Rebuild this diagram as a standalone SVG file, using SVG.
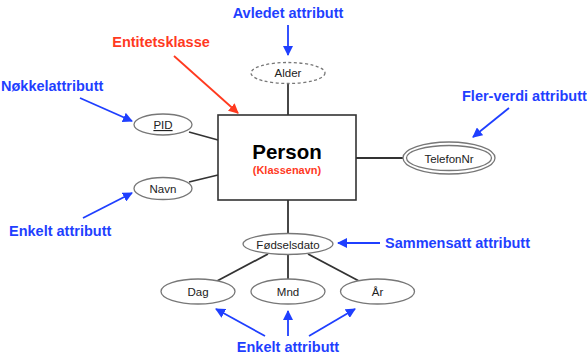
<svg xmlns="http://www.w3.org/2000/svg" width="587" height="360" viewBox="0 0 587 360">
  <defs>
    <marker id="arrBlue" viewBox="0 0 10 10" refX="9" refY="5" markerWidth="10" markerHeight="10" markerUnits="userSpaceOnUse" orient="auto">
      <path d="M0,0 L10,5 L0,10 z" fill="#1f3fff"/>
    </marker>
    <marker id="arrRed" viewBox="0 0 10 10" refX="9" refY="5" markerWidth="10" markerHeight="10" markerUnits="userSpaceOnUse" orient="auto">
      <path d="M0,0 L10,5 L0,10 z" fill="#ff3a1f"/>
    </marker>
  </defs>
  <style>
    .attr { fill: #fff; stroke: #777; stroke-width: 1.3; }
    .derived { fill: #fff; stroke: #777; stroke-width: 1.3; stroke-dasharray: 3 2.5; }
    .ent { fill: #fff; stroke: #333; stroke-width: 1.6; }
    .link { stroke: #333; stroke-width: 1.8; fill: none; }
    .lbl { font-family: "Liberation Sans", Arial, sans-serif; font-size: 11.5px; fill: #222; text-anchor: middle; }
    .note { font-family: "Liberation Sans", Arial, sans-serif; font-size: 14.5px; font-weight: bold; fill: #1f3fff; }
    .pb { stroke: #1f3fff; stroke-width: 1.8; fill: none; marker-end: url(#arrBlue); }
    .pr { stroke: #ff3a1f; stroke-width: 1.8; fill: none; marker-end: url(#arrRed); }
  </style>

  <!-- connectors between entity and attributes -->
  <g id="connectors">
    <line class="link" x1="288" y1="83" x2="288" y2="115"/>
    <line class="link" x1="189" y1="132" x2="218" y2="140"/>
    <line class="link" x1="189" y1="182" x2="218" y2="175"/>
    <line class="link" x1="356" y1="158" x2="403" y2="158"/>
    <line class="link" x1="288" y1="200" x2="288" y2="234"/>
    <line class="link" x1="268" y1="254" x2="217" y2="281"/>
    <line class="link" x1="288" y1="254" x2="288" y2="279"/>
    <line class="link" x1="308" y1="254" x2="359" y2="281"/>
  </g>

  <g id="person">
    <rect class="ent" x="218" y="115" width="138" height="85"/>
    <text x="287" y="159" font-family="Liberation Sans, Arial, sans-serif" font-size="20.5" font-weight="bold" fill="#000" text-anchor="middle">Person</text>
    <text x="287" y="174" font-family="Liberation Sans, Arial, sans-serif" font-size="11" font-weight="bold" fill="#ff3a1f" text-anchor="middle">(Klassenavn)</text>
  </g>

  <g id="alder">
    <ellipse class="derived" cx="288" cy="73" rx="37" ry="10.5"/>
    <text class="lbl" x="288" y="77">Alder</text>
  </g>

  <g id="pid">
    <ellipse class="attr" cx="163" cy="124.5" rx="29" ry="10.5"/>
    <text class="lbl" x="163" y="129" text-decoration="underline">PID</text>
  </g>

  <g id="navn">
    <ellipse class="attr" cx="163" cy="188.5" rx="29" ry="11"/>
    <text class="lbl" x="163" y="193">Navn</text>
  </g>

  <g id="telefonnr">
    <ellipse class="attr" cx="449" cy="158" rx="46" ry="16"/>
    <ellipse class="attr" cx="449" cy="158" rx="42.5" ry="12.5"/>
    <text class="lbl" x="449" y="162.5">TelefonNr</text>
  </g>

  <g id="fodselsdato">
    <ellipse class="attr" cx="288" cy="244" rx="45" ry="10.5"/>
    <text class="lbl" x="288" y="248.5">Fødselsdato</text>
  </g>

  <g id="dag">
    <ellipse class="attr" cx="198" cy="291.5" rx="37" ry="12.5"/>
    <text class="lbl" x="198" y="296">Dag</text>
  </g>

  <g id="mnd">
    <ellipse class="attr" cx="288" cy="291.5" rx="37" ry="12.5"/>
    <text class="lbl" x="288" y="296">Mnd</text>
  </g>

  <g id="aar">
    <ellipse class="attr" cx="377.5" cy="291.5" rx="37" ry="12.5"/>
    <text class="lbl" x="377.5" y="296">År</text>
  </g>

  <!-- explanatory notes with pointer arrows -->
  <g id="notes">
    <text class="note" x="288" y="18" text-anchor="middle">Avledet attributt</text>
    <line class="pb" x1="288" y1="25" x2="288" y2="55"/>

    <text class="note" x="161" y="47" text-anchor="middle" fill="#ff3a1f" style="fill:#ff3a1f">Entitetsklasse</text>
    <line class="pr" x1="174" y1="56" x2="238" y2="113"/>

    <text class="note" x="1" y="91">Nøkkelattributt</text>
    <line class="pb" x1="80" y1="98" x2="132" y2="121"/>

    <text class="note" x="9" y="236">Enkelt attributt</text>
    <line class="pb" x1="83" y1="218" x2="132" y2="193"/>

    <text class="note" x="462" y="101">Fler-verdi attributt</text>
    <line class="pb" x1="509" y1="108" x2="473" y2="137"/>

    <text class="note" x="385" y="248">Sammensatt attributt</text>
    <line class="pb" x1="380" y1="243" x2="338" y2="243"/>

    <text class="note" x="288" y="352" text-anchor="middle">Enkelt attributt</text>
    <line class="pb" x1="265" y1="336" x2="216" y2="309"/>
    <line class="pb" x1="288" y1="336" x2="288" y2="311"/>
    <line class="pb" x1="309" y1="336" x2="355" y2="309"/>
  </g>
</svg>
